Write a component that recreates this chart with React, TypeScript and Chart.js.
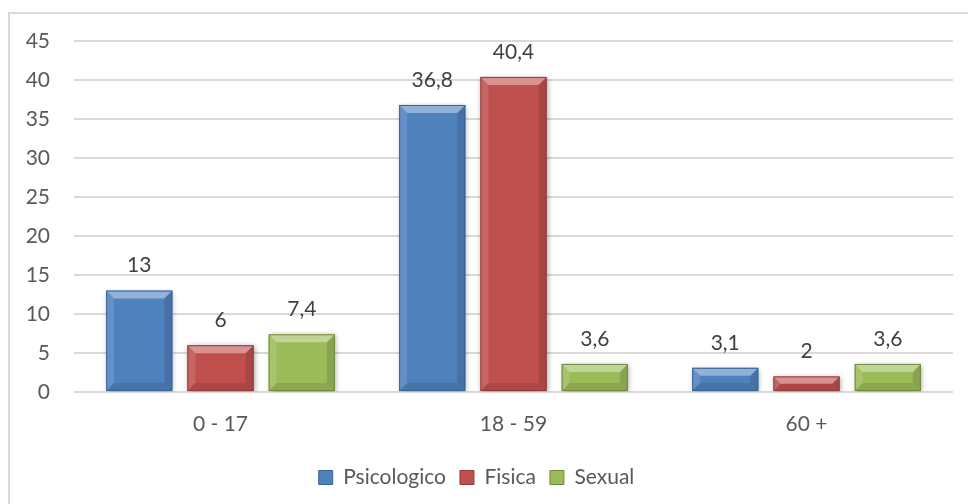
import React, { useEffect, useRef } from "react";
import { Chart, registerables } from "chart.js";

Chart.register(...registerables);

const categories = ["0 - 17", "18 - 59", "60 +"];
const psicologico = [13, 36.8, 3.1];
const fisica = [6, 40.4, 2];
const sexual = [7.4, 3.6, 3.6];
const seriesNames = ["Psicologico", "Fisica", "Sexual"];
const yTicksMax = 45;
const yStep = 5;

const FONT = "Lato, 'Open Sans', sans-serif";
const FS = 21;
const fills = ["#4F81BD", "#C0504D", "#9BBB59"];
const borders = ["#3A6494", "#8E3B39", "#71893F"];

const fmt = (v: number) => String(v).replace(".", ",");

const framePlugin = {
  id: "frame",
  beforeDraw(chart: any) {
    const { ctx, width, height } = chart;
    ctx.save();
    ctx.fillStyle = "#ffffff";
    ctx.fillRect(0, 0, width, height);
    ctx.fillStyle = "#d9d9d9";
    ctx.fillRect(8, 12, width - 8, 2);
    ctx.fillRect(8, 12, 2, height - 12);
    ctx.restore();
  },
};

const barPlugin = {
  id: "barDeco",
  beforeDatasetsDraw(chart: any) {
    const ctx = chart.ctx;
    ctx.save();
    ctx.shadowColor = "rgba(0,0,0,0.35)";
    ctx.shadowBlur = 5;
    ctx.shadowOffsetX = 1;
    ctx.shadowOffsetY = 1;
  },
  afterDatasetsDraw(chart: any) {
    const ctx = chart.ctx;
    ctx.restore();
    chart.data.datasets.forEach((ds: any, i: number) => {
      const meta = chart.getDatasetMeta(i);
      meta.data.forEach((el: any) => {
        const { x, y, base, width } = el.getProps(["x", "y", "base", "width"], true);
        const l = x - width / 2;
        const r = x + width / 2;
        const t = Math.min(y, base);
        const btm = Math.max(y, base);
        const b = Math.min(8, (btm - t) / 2);
        const poly = (pts: number[][], color: string) => {
          ctx.beginPath();
          ctx.moveTo(pts[0][0], pts[0][1]);
          for (let k = 1; k < pts.length; k++) ctx.lineTo(pts[k][0], pts[k][1]);
          ctx.closePath();
          ctx.fillStyle = color;
          ctx.fill();
        };
        ctx.save();
        poly([[l, t], [r, t], [r - b, t + b], [l + b, t + b]], "rgba(255,255,255,0.38)");
        poly([[l, t], [l + b, t + b], [l + b, btm - b], [l, btm]], "rgba(255,255,255,0.12)");
        poly([[r, t], [r - b, t + b], [r - b, btm - b], [r, btm]], "rgba(0,0,0,0.12)");
        poly([[l, btm], [l + b, btm - b], [r - b, btm - b], [r, btm]], "rgba(0,0,0,0.1)");
        ctx.strokeStyle = borders[i];
        ctx.lineWidth = 1;
        ctx.strokeRect(l + 0.5, t + 0.5, width - 1, btm - t - 1);
        ctx.restore();
      });
    });
    ctx.save();
    ctx.font = `${FS}px ${FONT}`;
    ctx.fillStyle = "#404040";
    ctx.textAlign = "center";
    ctx.textBaseline = "middle";
    chart.data.datasets.forEach((ds: any, i: number) => {
      const meta = chart.getDatasetMeta(i);
      meta.data.forEach((el: any, j: number) => {
        ctx.fillText(fmt(ds.data[j]), el.x, el.y - 25);
      });
    });
    ctx.restore();
  },
};

export default function App() {
  const ref = useRef<HTMLCanvasElement>(null);
  useEffect(() => {
    if (!ref.current) return;
    const data = [psicologico, fisica, sexual];
    const chart = new Chart(ref.current, {
      type: "bar",
      data: {
        labels: categories,
        datasets: seriesNames.map((name, i) => ({
          label: name,
          data: data[i],
          backgroundColor: fills[i],
          borderColor: borders[i],
          borderWidth: 0,
          categoryPercentage: 0.832,
          barPercentage: 0.815,
        })),
      },
      options: {
        responsive: false,
        animation: false,
        layout: { padding: { left: 0, right: 15, top: 41, bottom: 6 } },
        plugins: {
          tooltip: { enabled: false },
          legend: {
            position: "bottom",
            labels: {
              boxWidth: 14,
              boxHeight: 14,
              padding: 14,
              color: "#595959",
              font: { family: FONT, size: FS },
              generateLabels: (chart: any) =>
                chart.data.datasets.map((ds: any, i: number) => ({
                  text: ds.label,
                  fillStyle: fills[i],
                  strokeStyle: borders[i],
                  lineWidth: 1,
                  fontColor: "#595959",
                  datasetIndex: i,
                  hidden: false,
                })),
            },
          },
        },
        scales: {
          x: {
            grid: { display: false, drawTicks: false },
            border: { display: false },
            ticks: { color: "#595959", font: { family: FONT, size: FS }, padding: 20 },
            afterFit: (s: any) => {
              s.height = 61;
            },
          },
          y: {
            min: 0,
            max: yTicksMax,
            grid: { color: "#d9d9d9", lineWidth: 2, drawTicks: false },
            border: { display: false },
            ticks: {
              stepSize: yStep,
              color: "#595959",
              font: { family: FONT, size: FS },
              padding: 24,
            },
            afterFit: (s: any) => {
              s.width = 74;
            },
          },
        },
      },
      plugins: [framePlugin, barPlugin],
    });
    return () => chart.destroy();
  }, []);
  return (
    <div style={{ position: "absolute", left: 0, top: 0, width: 968, height: 504 }}>
      <canvas ref={ref} width={968} height={504} style={{ width: 968, height: 504 }} />
    </div>
  );
}
